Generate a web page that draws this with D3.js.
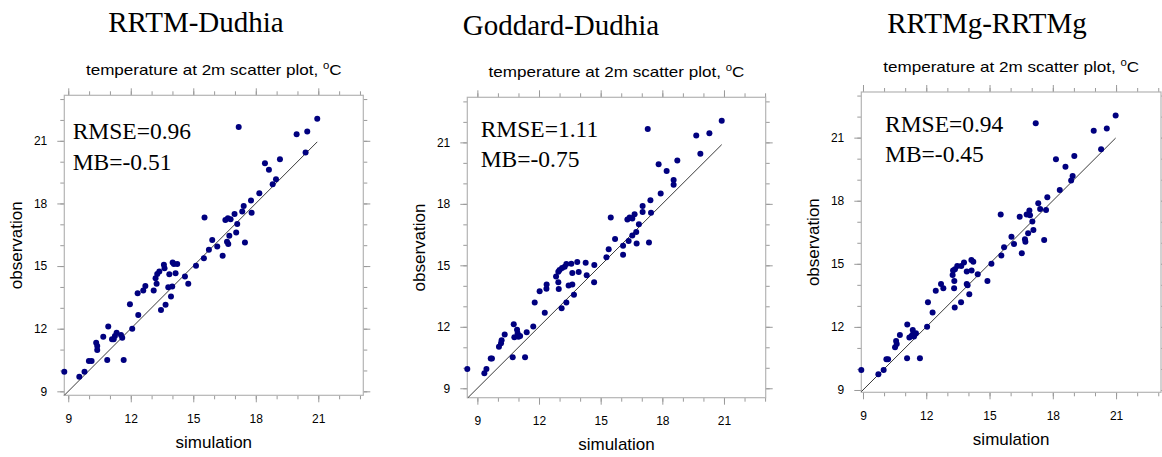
<!DOCTYPE html>
<html>
<head>
<meta charset="utf-8">
<script src="https://cdn.jsdelivr.net/npm/d3@7"></script>
<style>
    body { margin: 0; background: #fff; }
    .axis text { font-family: "Liberation Sans", Arial, sans-serif; font-size: 12px; fill: #000; }
    .axis line { stroke: #9a9a9a; }
    .axis path { display: none; }
    .label { font-family: "Liberation Sans", Arial, sans-serif; font-size: 17px; fill: #000; }
    .serif { font-family: "Liberation Serif", "Times New Roman", serif; fill: #000; }
</style>
</head>
<body>
<div id="chart"></div>
<script>

// ---- data (simulation vs observation, deg C) ----

let simRRTM = [8.81, 9.53, 9.78, 9.99, 10.12, 10.34, 10.39, 10.39, 10.68, 10.87, 10.92, 11.10, 11.18, 11.24, 11.32,
    11.53, 11.59, 11.66, 11.96, 12.07, 12.33, 12.36, 12.60, 12.70, 13.10, 13.19, 13.24, 13.27, 13.37, 13.45,
    13.59, 13.62, 13.67, 13.80, 13.85, 13.93, 13.99, 14.01, 14.07, 14.15, 14.23, 14.60, 14.76, 15.13, 15.51,
    15.54, 15.75, 15.91, 16.15, 16.41, 16.54, 16.62, 16.66, 16.68, 16.73, 16.79, 16.98, 17.06, 17.11, 17.18,
    17.35, 17.42, 17.48, 17.77, 17.80, 18.17, 18.44, 18.63, 18.81, 18.97, 19.16, 19.96, 20.39, 20.47, 20.95];
let obsRRTM = [9.94, 9.70, 9.94, 10.45, 10.45, 11.33, 11.17, 10.98, 11.62, 10.50, 12.10, 11.49, 11.49, 11.65, 11.81,
    11.70, 11.57, 10.50, 13.17, 12.00, 13.70, 12.66, 13.83, 14.05, 13.83, 14.42, 14.15, 14.62, 14.74, 12.90,
    15.06, 14.90, 13.15, 13.99, 14.61, 13.54, 14.02, 15.17, 15.10, 14.66, 15.10, 14.50, 14.15, 15.01, 15.38,
    17.33, 15.78, 16.25, 15.94, 15.49, 17.21, 16.17, 17.29, 16.06, 16.45, 17.24, 17.49, 16.61, 17.01, 21.66,
    17.61, 17.88, 16.13, 18.14, 17.56, 18.49, 19.93, 19.61, 18.92, 19.16, 20.12, 21.32, 20.44, 21.45, 22.06];

let simGoddard = [8.51, 9.34, 9.44, 9.65, 9.71, 10.05, 10.15, 10.18, 10.33, 10.72, 10.77, 10.80, 10.93, 10.96, 11.00,
    11.08, 11.32, 11.40, 11.72, 11.79, 12.03, 12.28, 12.36, 12.37, 12.83, 12.94, 12.96, 12.94, 13.00, 13.10,
    13.12, 13.25, 13.33, 13.33, 13.44, 13.57, 13.62, 13.62, 13.70, 13.86, 13.93, 14.27, 14.32, 14.68, 14.69,
    15.28, 15.39, 15.49, 15.70, 16.09, 16.09, 16.30, 16.36, 16.41, 16.54, 16.54, 16.65, 16.73, 16.75, 16.86,
    17.04, 17.04, 17.29, 17.35, 17.42, 17.45, 17.92, 17.82, 18.21, 18.55, 18.55, 18.73, 19.65, 19.85, 20.29, 20.89];
let obsGoddard = [9.94, 9.73, 9.94, 10.45, 10.45, 11.03, 11.20, 11.34, 11.63, 10.51, 12.12, 11.49, 11.85, 11.68, 11.52,
    11.55, 10.51, 11.73, 12.02, 13.18, 13.73, 12.69, 13.86, 14.07, 14.46, 14.17, 13.85, 14.69, 14.77, 12.90,
    14.87, 14.93, 13.18, 15.07, 14.02, 15.08, 14.63, 14.07, 13.57, 15.16, 14.67, 15.13, 14.51, 14.17, 15.02,
    15.39, 15.78, 17.34, 16.28, 15.96, 15.52, 17.24, 16.19, 17.34, 17.28, 16.46, 17.49, 16.63, 16.07, 17.00,
    17.60, 17.89, 21.65, 16.11, 18.17, 17.57, 18.51, 19.93, 19.60, 19.16, 18.93, 20.12, 21.33, 20.45, 21.44, 22.06];

let simRRTMg = [8.92, 9.73, 9.98, 10.11, 10.19, 10.52, 10.57, 10.60, 10.75, 11.09, 11.10, 11.20, 11.31, 11.36, 11.37,
    11.42, 11.51, 11.70, 12.04, 12.08, 12.30, 12.45, 12.70, 12.81, 13.25, 13.27, 13.32, 13.33, 13.35, 13.36,
    13.47, 13.65, 13.66, 13.79, 13.92, 13.92, 13.96, 14.04, 14.14, 14.15, 14.23, 14.44, 14.90, 15.09, 15.56,
    15.53, 15.69, 16.04, 16.16, 16.43, 16.53, 16.68, 16.70, 16.76, 16.83, 16.89, 16.92, 17.03, 17.08, 17.19,
    17.31, 17.40, 17.59, 17.68, 17.74, 18.33, 18.15, 18.60, 18.87, 18.94, 19.02, 19.94, 20.29, 20.56, 20.98];
let obsRRTMg = [9.95, 9.75, 9.95, 10.46, 10.46, 11.03, 11.33, 11.19, 11.62, 10.51, 12.12, 11.50, 11.58, 11.85, 11.65,
    11.54, 11.70, 10.51, 12.01, 13.17, 12.68, 13.72, 14.04, 13.84, 14.47, 14.68, 13.84, 14.18, 12.92, 14.74,
    14.90, 13.17, 14.90, 15.06, 14.63, 14.04, 13.98, 13.55, 15.18, 14.68, 15.10, 14.50, 14.18, 15.00, 15.39,
    17.35, 15.79, 16.29, 15.94, 17.24, 15.50, 16.17, 16.05, 17.34, 16.45, 17.53, 17.31, 17.01, 16.61, 21.68,
    17.88, 17.61, 16.13, 17.56, 18.16, 18.51, 19.97, 19.62, 18.96, 19.18, 20.13, 21.33, 20.45, 21.44, 22.05];

let panelTitles = ["RRTM-Dudhia", "Goddard-Dudhia", "RRTMg-RRTMg"];
let statLines = [["RMSE=0.96", "MB=-0.51"], ["RMSE=1.11", "MB=-0.75"], ["RMSE=0.94", "MB=-0.45"]];
let majorTicks = [9, 12, 15, 18, 21];
let minorTicks = [9, 10, 11, 12, 13, 14, 15, 16, 17, 18, 19, 20, 21, 22, 23];


class ScatterVis {

    constructor(svg, sim, obs, title, stats, layout) {
        this.svg = svg;
        this.sim = sim;
        this.obs = obs;
        this.title = title;
        this.stats = stats;
        this.layout = layout;

        this.initVis();
    }

    initVis() {
        let vis = this;
        let L = vis.layout;

        vis.width = L.right - L.left;
        vis.height = L.bottom - L.top;

        vis.g = vis.svg.append("g")
            .attr("transform", `translate(${L.left}, ${L.top})`);

        vis.x = d3.scaleLinear().domain(L.xDomain).range([0, vis.width]);
        vis.y = d3.scaleLinear().domain(L.yDomain).range([vis.height, 0]);

        // minor ticks on all four sides, then major ticks (labels only bottom/left)
        let sides = [
            {axis: d3.axisBottom, scale: vis.x, t: `translate(0, ${vis.height})`, labels: true, pad: 12},
            {axis: d3.axisTop, scale: vis.x, t: "translate(0, 0)", labels: false, pad: 3},
            {axis: d3.axisLeft, scale: vis.y, t: "translate(0, 0)", labels: true, pad: 10},
            {axis: d3.axisRight, scale: vis.y, t: `translate(${vis.width}, 0)`, labels: false, pad: 3}
        ];

        sides.forEach(s => {
            vis.g.append("g")
                .attr("class", "axis")
                .attr("transform", s.t)
                .call(s.axis(s.scale).tickValues(minorTicks).tickSize(4).tickFormat(""));

            vis.g.append("g")
                .attr("class", "axis")
                .attr("transform", s.t)
                .call(s.axis(s.scale).tickValues(majorTicks).tickSize(7).tickPadding(s.pad)
                    .tickFormat(s.labels ? d3.format("d") : ""));
        });

        // frame
        vis.g.append("rect")
            .attr("width", vis.width)
            .attr("height", vis.height)
            .attr("fill", "none")
            .attr("stroke", "#b4b4b4")
            .attr("stroke-width", 1.2);

        // 1:1 line
        let lo = Math.max(L.xDomain[0], L.yDomain[0]);
        let hi = d3.max(vis.sim);
        vis.g.append("line")
            .attr("x1", vis.x(lo)).attr("y1", vis.y(lo))
            .attr("x2", vis.x(hi)).attr("y2", vis.y(hi))
            .attr("stroke", "#3a3a3a")
            .attr("stroke-width", 1);

        // titles
        vis.svg.append("text")
            .attr("class", "serif")
            .attr("x", L.titleX)
            .attr("y", L.titleY)
            .attr("text-anchor", "middle")
            .style("font-size", "29px")
            .text(vis.title);

        let sub = vis.svg.append("text")
            .attr("class", "label")
            .attr("text-anchor", "middle")
            .style("font-size", "15px");
        sub.append("tspan").text("temperature at 2m scatter plot, ");
        sub.append("tspan").attr("dy", -6).style("font-size", "10px").text("o");
        sub.append("tspan").attr("dy", 6).text("C");
        let k = 256 / sub.node().getComputedTextLength();
        sub.attr("transform", `translate(${L.left + vis.width / 2}, ${L.top - 20.5}) scale(${k}, 1)`);

        // axis labels
        vis.g.append("text")
            .attr("class", "label")
            .attr("x", vis.width / 2)
            .attr("y", vis.height + 52.5)
            .attr("text-anchor", "middle")
            .text("simulation");

        vis.g.append("text")
            .attr("class", "label")
            .attr("transform", `translate(-42, ${vis.height / 2}) rotate(-90)`)
            .attr("text-anchor", "middle")
            .text("observation");

        // statistics
        vis.g.selectAll(".stat")
            .data(vis.stats)
            .enter().append("text")
            .attr("class", "serif stat")
            .attr("x", L.statX)
            .attr("y", (d, i) => L.statY + i * 30.5)
            .style("font-size", "23.5px")
            .text(d => d);

        vis.updateVis();
    }

    updateVis() {
        let vis = this;

        let points = vis.sim.map((s, i) => ({sim: s, obs: vis.obs[i]}));

        vis.g.selectAll("circle")
            .data(points)
            .enter().append("circle")
            .attr("cx", d => vis.x(d.sim))
            .attr("cy", d => vis.y(d.obs))
            .attr("r", 3)
            .attr("fill", "#00007f");
    }
}

let svg = d3.select("#chart").append("svg")
    .attr("width", 1162)
    .attr("height", 457);

let layouts = [
    {left: 64.3, top: 95.3, right: 363.3, bottom: 395.3, xDomain: [8.81, 23.16], yDomain: [8.81, 23.18],
        titleX: 196, titleY: 32, statX: 8.4, statY: 44},
    {left: 467.3, top: 97.3, right: 765.7, bottom: 397.7, xDomain: [8.51, 23.03], yDomain: [8.54, 23.2],
        titleX: 561, titleY: 35, statX: 13.4, statY: 39.4},
    {left: 861.3, top: 92, right: 1161, bottom: 392.3, xDomain: [8.92, 23.13], yDomain: [8.89, 23.17],
        titleX: 987, titleY: 33, statX: 23.7, statY: 39.7}
];

let simSets = [simRRTM, simGoddard, simRRTMg];
let obsSets = [obsRRTM, obsGoddard, obsRRTMg];

let panels = layouts.map((L, i) => new ScatterVis(svg, simSets[i], obsSets[i], panelTitles[i], statLines[i], L));

</script>
</body>
</html>
